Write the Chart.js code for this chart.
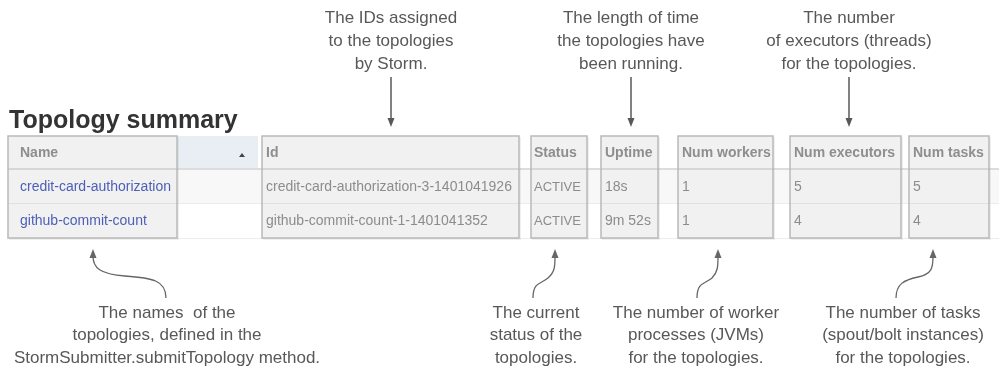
<!DOCTYPE html>
<html>
<head>
<meta charset="utf-8">
<script src="https://cdn.jsdelivr.net/npm/chart.js@4/dist/chart.umd.min.js"></script>
<style>
  html, body { margin: 0; padding: 0; background: #fff; }
  #wrap { width: 999px; height: 367px; position: relative; }
</style>
</head>
<body>
<div id="wrap"><canvas id="myChart"></canvas></div>
<script>
// table content
var title = "Topology summary";
var columns = ["Name", "Id", "Status", "Uptime", "Num workers", "Num executors", "Num tasks"];
var names = ["credit-card-authorization", "github-commit-count"];
var ids = ["credit-card-authorization-3-1401041926", "github-commit-count-1-1401041352"];
var statuses = ["ACTIVE", "ACTIVE"];
var uptimes = ["18s", "9m 52s"];
var workers = ["1", "1"];
var executors = ["5", "4"];
var tasks = ["5", "4"];

// callout texts
var topNotes = [
    ["The IDs assigned", "to the topologies", "by Storm."],
    ["The length of time", "the topologies have", "been running."],
    ["The number", "of executors (threads)", "for the topologies."]
];
var bottomNotes = [
    ["The names  of the", "topologies, defined in the", "StormSubmitter.submitTopology method."],
    ["The current", "status of the", "topologies."],
    ["The number of worker", "processes (JVMs)", "for the topologies."],
    ["The number of tasks", "(spout/bolt instances)", "for the topologies."]
];

// layout (in scale units, 1 unit = 1 px)
var boxLeft = [8, 262, 531, 601, 678, 790, 909];
var boxRight = [177, 519, 587, 658, 773, 901, 989];
var textPad = [12, 4, 3, 4, 4, 4, 4];
var cellSize = [14, 14, 13, 14, 14, 14, 14];
var topNoteX = [391, 631, 849];
var bottomNoteX = [167, 536, 696, 903];

var FONT = '"Liberation Sans", Arial, Helvetica, sans-serif';

function tablePlugin() {
    return {
        id: "table",
        afterDraw: function (chart) {
            var ctx = chart.ctx;
            var sx = chart.scales.x, sy = chart.scales.y;
            function X(v) { return sx.getPixelForValue(v); }
            function Y(v) { return sy.getPixelForValue(v); }
            var rows = [names, ids, statuses, uptimes, workers, executors, tasks];
            var headTop = 136, headBot = 169, row1Bot = 203, row2Bot = 238;
            ctx.save();

            // title
            ctx.fillStyle = "#333";
            ctx.font = "bold 25px " + FONT;
            ctx.textAlign = "left";
            ctx.textBaseline = "alphabetic";
            ctx.fillText(title, X(9), Y(128));

            // underlying table
            ctx.fillStyle = "#e8eef3";
            ctx.fillRect(X(8), Y(headTop), X(258) - X(8), Y(headBot) - Y(headTop));
            ctx.fillStyle = "#f8f8f8";
            ctx.fillRect(X(8), Y(headBot), X(999) - X(8), Y(row1Bot) - Y(headBot));
            ctx.strokeStyle = "#dcdcdc";
            ctx.lineWidth = 2;
            ctx.beginPath();
            ctx.moveTo(X(8), Y(headBot)); ctx.lineTo(X(999), Y(headBot));
            ctx.stroke();
            ctx.lineWidth = 1;
            ctx.strokeStyle = "#ececec";
            ctx.beginPath();
            ctx.moveTo(X(8), Y(row1Bot) + 0.5); ctx.lineTo(X(999), Y(row1Bot) + 0.5);
            ctx.moveTo(X(8), Y(row2Bot) + 0.5); ctx.lineTo(X(999), Y(row2Bot) + 0.5);
            ctx.stroke();

            // sort marker
            ctx.fillStyle = "#444";
            ctx.beginPath();
            ctx.moveTo(X(239), Y(157)); ctx.lineTo(X(245), Y(157)); ctx.lineTo(X(242), Y(153));
            ctx.closePath(); ctx.fill();

            // highlighted column boxes
            for (var c = 0; c < columns.length; c++) {
                var l = X(boxLeft[c]), r = X(boxRight[c]);
                var t = Y(headTop), b = Y(row2Bot);
                ctx.fillStyle = "rgba(0,0,0,0.06)";
                ctx.fillRect(l + 1, t + 1, r - l + 1, b - t + 1);
                ctx.fillStyle = "#f1f1f1";
                ctx.fillRect(l, t, r - l, b - t);
                ctx.strokeStyle = "#d6d6d6";
                ctx.lineWidth = 2;
                ctx.beginPath();
                ctx.moveTo(l, Y(headBot)); ctx.lineTo(r, Y(headBot));
                ctx.stroke();
                ctx.lineWidth = 1;
                ctx.strokeStyle = "#e0e0e0";
                ctx.beginPath();
                ctx.moveTo(l, Y(row1Bot) + 0.5); ctx.lineTo(r, Y(row1Bot) + 0.5);
                ctx.stroke();
                ctx.strokeStyle = "#b9b9b9";
                ctx.lineWidth = 1.5;
                ctx.strokeRect(l, t, r - l, b - t);

                // header
                ctx.fillStyle = "#8e8e8e";
                ctx.font = "bold 14px " + FONT;
                ctx.textBaseline = "middle";
                ctx.textAlign = "left";
                ctx.fillText(columns[c], l + textPad[c], Y(153));

                // cells
                ctx.font = cellSize[c] + "px " + FONT;
                ctx.fillStyle = c === 0 ? "#4c5fb5" : "#8c8c8c";
                for (var rI = 0; rI < rows[c].length; rI++) {
                    ctx.fillText(rows[c][rI], l + textPad[c], Y(187 + rI * 34));
                }
            }

            // top callouts
            ctx.fillStyle = "#585858";
            ctx.strokeStyle = "#585858";
            ctx.font = "17px " + FONT;
            ctx.textAlign = "center";
            ctx.textBaseline = "middle";
            for (var i = 0; i < topNotes.length; i++) {
                for (var k = 0; k < topNotes[i].length; k++) {
                    ctx.fillText(topNotes[i][k], X(topNoteX[i]), Y(18 + k * 23));
                }
                ctx.lineWidth = 1.5;
                ctx.beginPath();
                ctx.moveTo(X(topNoteX[i]), Y(77)); ctx.lineTo(X(topNoteX[i]), Y(120));
                ctx.stroke();
                ctx.beginPath();
                ctx.moveTo(X(topNoteX[i]) - 3.5, Y(118));
                ctx.lineTo(X(topNoteX[i]) + 3.5, Y(118));
                ctx.lineTo(X(topNoteX[i]), Y(127));
                ctx.closePath(); ctx.fill();
            }

            // bottom callouts
            for (var j = 0; j < bottomNotes.length; j++) {
                for (var m = 0; m < bottomNotes[j].length; m++) {
                    ctx.fillText(bottomNotes[j][m], X(bottomNoteX[j]), Y(313 + m * 22.5));
                }
            }
            // curved arrows: [start, c1, c2, mid, c3, c4, end]
            var curves = [
                [[166, 298], [166, 280], [152, 278], [125, 276], [100, 274], [93, 268], [93, 256]],
                [[533, 298], [533, 282], [541, 284], [548, 278], [555, 272], [555, 266], [555, 256]],
                [[697, 298], [697, 282], [705, 284], [712, 278], [718, 272], [718, 266], [718, 256]],
                [[896, 298], [896, 284], [904, 280], [918, 277], [932, 274], [933, 268], [933, 256]]
            ];
            ctx.strokeStyle = "#666";
            ctx.fillStyle = "#666";
            ctx.lineWidth = 1.3;
            curves.forEach(function (p) {
                ctx.beginPath();
                ctx.moveTo(X(p[0][0]), Y(p[0][1]));
                ctx.bezierCurveTo(X(p[1][0]), Y(p[1][1]), X(p[2][0]), Y(p[2][1]), X(p[3][0]), Y(p[3][1]));
                ctx.bezierCurveTo(X(p[4][0]), Y(p[4][1]), X(p[5][0]), Y(p[5][1]), X(p[6][0]), Y(p[6][1]));
                ctx.stroke();
                var ex = X(p[6][0]), ey = Y(p[6][1]);
                ctx.beginPath();
                ctx.moveTo(ex - 3.5, ey + 2);
                ctx.lineTo(ex + 3.5, ey + 2);
                ctx.lineTo(ex, ey - 7);
                ctx.closePath(); ctx.fill();
            });
            ctx.restore();
        }
    };
}

new Chart("myChart", {
    type: "scatter",
    data: { datasets: [{ data: [], pointRadius: 0 }] },
    options: {
        responsive: true,
        maintainAspectRatio: false,
        animation: false,
        layout: { padding: 0 },
        plugins: { legend: { display: false }, tooltip: { enabled: false } },
        scales: {
            x: { type: "linear", min: 0, max: 999, display: false },
            y: { type: "linear", min: 0, max: 367, reverse: true, display: false }
        }
    },
    plugins: [tablePlugin()]
});
</script>
</body>
</html>
